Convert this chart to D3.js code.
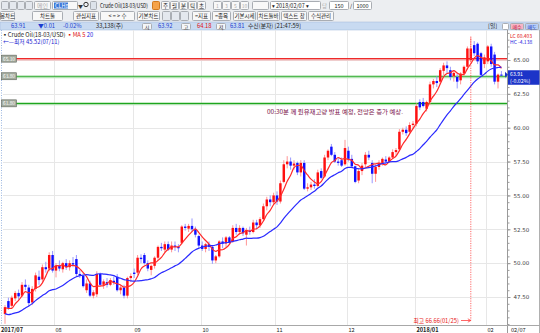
<!DOCTYPE html>
<html>
<head>
<meta charset="utf-8">
<script src="https://cdn.jsdelivr.net/npm/d3@7"></script>
<style>
  body { margin: 0; background: #fff; }
  svg { display: block; font-family: "Noto Sans CJK KR", "DejaVu Sans", sans-serif; }
</style>
</head>
<body>
<svg id="chart" width="540" height="333"></svg>
<script>
// daily bars: date, open, high, low, close  (Crude Oil 18-03)
const candles = [
  ["2017-07-11",46.25,46.90,45.52,46.75],["2017-07-12",47.20,47.45,46.55,46.70],["2017-07-13",46.85,47.60,46.70,47.45],
  ["2017-07-14",47.40,47.95,47.20,47.80],["2017-07-17",47.80,48.05,47.30,47.55],["2017-07-18",47.60,48.60,47.50,48.40],
  ["2017-07-19",48.40,48.80,48.00,48.25],["2017-07-20",48.20,48.40,46.80,47.05],["2017-07-21",47.10,48.30,46.90,48.10],
  ["2017-07-24",48.10,49.30,47.90,49.10],["2017-07-25",49.00,49.45,48.40,48.75],["2017-07-26",48.80,49.90,48.60,49.70],
  ["2017-07-27",49.70,50.10,49.30,49.55],["2017-07-28",49.60,50.80,49.40,50.60],["2017-07-31",50.60,50.90,49.30,49.45],
  ["2017-08-01",49.45,50.00,48.95,49.80],["2017-08-02",49.80,50.20,49.40,49.60],["2017-08-03",49.55,50.10,49.30,50.00],
  ["2017-08-04",50.00,50.30,49.50,49.70],["2017-08-07",49.70,50.20,49.45,50.00],["2017-08-08",50.00,50.45,49.70,49.90],
  ["2017-08-09",50.30,50.60,49.00,49.20],["2017-08-10",49.20,49.50,48.90,49.10],["2017-08-11",49.05,49.25,48.20,48.30],
  ["2017-08-14",48.00,48.80,47.80,48.50],["2017-08-15",48.50,48.70,47.50,47.60],["2017-08-16",47.60,48.00,47.40,47.85],
  ["2017-08-17",47.70,49.40,47.50,49.20],["2017-08-18",49.20,49.30,48.30,48.40],["2017-08-21",48.40,48.80,48.10,48.65],
  ["2017-08-22",48.60,48.90,48.20,48.40],["2017-08-23",48.40,48.90,48.30,48.75],["2017-08-24",48.70,49.00,48.40,48.60],
  ["2017-08-25",49.00,49.20,47.90,48.00],["2017-08-28",48.00,48.40,47.70,48.20],["2017-08-29",48.20,48.40,47.40,47.60],
  ["2017-08-30",47.60,49.00,47.40,48.90],["2017-08-31",48.90,49.25,48.60,49.05],["2017-09-01",49.30,49.60,48.90,49.20],
  ["2017-09-05",49.30,50.60,49.10,50.40],["2017-09-06",50.40,50.65,50.00,50.30],["2017-09-07",50.60,50.75,49.90,50.00],
  ["2017-09-08",50.00,50.20,49.40,49.60],["2017-09-11",49.50,49.90,49.10,49.80],["2017-09-12",49.80,50.50,49.60,50.40],
  ["2017-09-13",50.40,51.30,50.20,51.20],["2017-09-14",51.20,51.50,50.90,51.10],["2017-09-15",51.00,51.60,50.80,51.40],
  ["2017-09-18",51.40,51.60,50.90,51.00],["2017-09-19",51.00,51.60,50.80,51.30],["2017-09-20",51.30,51.60,50.90,51.20],
  ["2017-09-21",51.20,51.40,50.80,51.10],["2017-09-22",51.50,52.80,51.40,52.70],["2017-09-25",52.70,52.90,52.40,52.60],
  ["2017-09-26",52.55,52.90,52.30,52.75],["2017-09-27",52.75,53.30,52.30,52.50],["2017-09-28",52.50,52.70,51.90,52.10],
  ["2017-09-29",52.00,52.10,51.10,51.30],["2017-10-02",51.30,51.60,50.90,51.05],["2017-10-03",51.05,51.50,50.80,51.40],
  ["2017-10-04",51.40,51.60,50.90,51.20],["2017-10-05",51.20,51.30,49.95,50.20],["2017-10-06",50.20,50.60,50.00,50.50],
  ["2017-10-09",50.50,51.70,50.40,51.60],["2017-10-10",51.60,51.90,51.10,51.45],["2017-10-11",51.45,52.00,51.20,51.90],
  ["2017-10-12",51.90,52.00,51.40,51.50],["2017-10-13",51.60,52.80,51.50,52.60],["2017-10-16",52.60,52.90,52.10,52.30],
  ["2017-10-17",52.30,52.80,52.10,52.60],["2017-10-18",52.60,52.70,52.00,52.20],["2017-10-19",52.10,52.60,51.30,52.40],
  ["2017-10-20",52.40,52.70,52.10,52.30],["2017-10-23",52.30,53.20,52.20,53.00],["2017-10-24",53.00,53.20,52.50,52.80],
  ["2017-10-25",52.80,53.40,52.60,53.25],["2017-10-26",53.25,54.40,53.10,54.20],["2017-10-27",54.20,54.90,53.90,54.70],
  ["2017-10-30",54.70,55.00,54.20,54.50],["2017-10-31",54.50,55.20,54.30,55.00],["2017-11-01",55.00,55.30,54.30,54.55],
  ["2017-11-02",54.55,56.10,54.40,55.90],["2017-11-03",56.00,57.60,55.90,57.30],["2017-11-06",57.30,57.90,57.00,57.50],
  ["2017-11-07",57.50,57.80,56.90,57.20],["2017-11-08",57.20,57.60,56.90,57.35],["2017-11-09",57.40,57.50,56.50,56.70],
  ["2017-11-10",56.70,57.60,56.40,57.40],["2017-11-13",57.40,57.60,55.40,55.50],["2017-11-14",55.50,55.90,55.30,55.60],
  ["2017-11-15",55.60,56.00,55.40,55.80],["2017-11-16",55.80,56.20,55.50,55.70],["2017-11-17",55.70,56.90,55.60,56.70],
  ["2017-11-20",56.80,57.00,56.20,56.30],["2017-11-21",56.40,58.00,56.30,57.80],["2017-11-22",57.80,58.40,57.60,58.30],
  ["2017-11-24",58.60,58.80,57.90,58.00],["2017-11-27",58.00,58.20,57.40,57.50],["2017-11-28",57.50,57.80,57.20,57.40],
  ["2017-11-29",57.60,57.80,57.10,57.20],["2017-11-30",57.30,59.10,57.20,58.50],["2017-12-01",58.30,58.60,57.50,57.70],
  ["2017-12-04",57.70,58.00,57.00,57.15],["2017-12-05",57.15,57.20,55.90,56.00],["2017-12-06",56.10,57.00,55.90,56.80],
  ["2017-12-07",56.80,57.40,56.50,57.20],["2017-12-08",57.30,58.20,57.10,58.00],["2017-12-11",58.00,58.30,57.60,57.80],
  ["2017-12-12",57.40,57.60,55.90,56.60],["2017-12-13",56.60,57.30,56.00,57.10],["2017-12-14",57.10,57.60,56.90,57.40],
  ["2017-12-15",57.40,57.80,57.20,57.70],["2017-12-18",57.65,57.90,57.30,57.50],["2017-12-19",57.50,57.90,57.40,57.80],
  ["2017-12-20",57.80,58.40,57.70,58.20],["2017-12-21",58.20,58.50,57.90,58.35],["2017-12-22",58.40,59.90,58.30,59.70],
  ["2017-12-26",59.70,60.00,59.50,59.85],["2017-12-27",59.85,60.10,59.40,59.60],["2017-12-28",59.70,60.40,59.60,60.20],
  ["2017-12-29",60.20,60.50,59.90,60.30],["2018-01-02",60.30,61.80,60.10,61.60],["2018-01-03",61.90,62.10,61.30,61.50],
  ["2018-01-04",61.90,62.20,61.50,61.60],["2018-01-05",61.40,62.00,61.20,61.90],["2018-01-08",61.90,63.40,61.70,63.20],
  ["2018-01-09",63.20,63.60,62.90,63.45],["2018-01-10",63.45,63.80,63.00,63.30],["2018-01-11",63.40,64.40,63.20,64.25],
  ["2018-01-12",64.20,64.80,63.90,64.60],["2018-01-16",64.60,64.90,64.00,64.40],["2018-01-17",64.25,64.50,63.50,63.75],
  ["2018-01-18",63.80,64.20,63.40,64.05],["2018-01-19",63.75,64.00,62.90,63.40],["2018-01-22",63.50,64.10,63.20,64.00],
  ["2018-01-23",64.00,64.60,63.80,64.50],["2018-01-24",64.50,66.00,64.30,65.85],["2018-01-25",65.00,66.66,64.80,65.85],
  ["2018-01-26",66.10,66.40,65.30,65.50],["2018-01-29",66.20,66.30,64.70,64.90],["2018-01-30",65.50,65.60,63.80,63.90],
  ["2018-01-31",64.70,65.40,64.40,65.20],["2018-02-01",64.90,66.10,64.70,66.00],["2018-02-02",66.00,66.20,64.50,64.70],
  ["2018-02-05",65.40,65.60,63.20,63.40],["2018-02-06",63.40,64.00,62.90,63.92],["2018-02-07",63.92,64.18,63.81,63.91]
];
// closes before the first visible bar (feed the moving averages)
const warmup = [48.2,46.5,46.2,46.4,45.7,44.7,44.3,44.5,44.7,45.0,46.0,46.4,46.6,47.8,48.8,47.1,47.4,46.1,46.3];
const maPeriods = [5, 20];
const priceTicks = [47.5, 50, 52.5, 55, 57.5, 60, 62.5, 65];
const monthStarts = ["2017-07-11","2017-08-01","2017-09-01","2017-10-02","2017-11-01","2017-12-01","2018-01-02","2018-02-01"];
const monthLabels = ["2017/07","08","09","10","11","12","2018/01","02"];
const levelValues = [65.10, 63.80, 61.80];
const levelKinds = ["red", "green", "green"];
const volumeText = "33,138(주)";
const note = "00:30분 께 원유재고량 발표 예정, 전망은 증가 예상.";

const svg = d3.select("#chart");
const W = 540, H = 333;
const plotL = 3, plotR = 507, plotT = 30, plotB = 325;

svg.append("rect").attr("width", W).attr("height", H).attr("fill", "#fff");

// ---------- toolbar ----------
svg.append("rect").attr("x", 0).attr("y", 0).attr("width", W).attr("height", 22).attr("fill", "#eceef1");
const btn = (x, y, w, h, label, opt = {}) => {
  svg.append("rect").attr("x", x + .5).attr("y", y + .5).attr("width", w).attr("height", h)
    .attr("fill", opt.fill || "#f8f8f8").attr("stroke", opt.stroke || "#a9adb3").attr("rx", 1);
  if (label) svg.append("text").attr("x", x + w / 2 + .5).attr("y", y + h / 2 + 2.6)
    .attr("text-anchor", "middle").attr("font-size", opt.fs || 6).attr("fill", opt.color || "#222").text(label);
};
[1, 9, 17, 25].forEach(x => btn(x, 1, 7, 8, "", { fill: "#e4e8ee" }));
btn(34, 1, 16, 8, "메인", { color: "#aaa" });
btn(52, 1, 25, 8, "");
svg.append("rect").attr("x", 54).attr("y", 2.5).attr("width", 14).attr("height", 6).attr("fill", "#3877d8");
svg.append("text").attr("x", 55).attr("y", 7.6).attr("font-size", 5.5).attr("fill", "#fff").text("CLH8");
svg.append("text").attr("x", 78).attr("y", 7.5).attr("font-size", 5).attr("fill", "#333").text("▼");
svg.append("circle").attr("cx", 86).attr("cy", 4.5).attr("r", 2.2).attr("fill", "none").attr("stroke", "#333");
btn(90, 1, 6, 8, "", { fill: "#dde3ea" });
svg.append("text").attr("x", 100).attr("y", 7.6).attr("font-size", 6).attr("fill", "#111")
  .attr("textLength", 48).attr("lengthAdjust", "spacingAndGlyphs").text("Crude Oil(18-03/USD)");
btn(152, 1, 7, 8, "", { fill: "#f5a34a", stroke: "#d07a20" });
["주", "월", "분", "틱", "초"].forEach((t, i) => btn(161 + i * 9, 1, 8, 8, t, { fs: 5.5 }));
["1", "3", "5", "10"].forEach((t, i) => btn(213 + i * 9, 1, 8, 8, t, { color: "#aaa", fs: 5 }));
btn(252, 1, 16, 8, "");
btn(270, 1, 50, 8, "", { fill: "#fff" });
svg.append("text").attr("x", 272).attr("y", 7.5).attr("font-size", 5.5).attr("fill", "#222").text("▾ 2018/02/07 ▾");
svg.append("text").attr("x", 322).attr("y", 7.5).attr("font-size", 5.5).attr("fill", "#aaa").text("당");
btn(329, 1, 19, 8, "150", { fill: "#fff", fs: 5.5 });
svg.append("text").attr("x", 350).attr("y", 7.5).attr("font-size", 5.5).attr("fill", "#222").text("/");
btn(353, 1, 18, 8, "1000", { fill: "#fff", fs: 5.5 });

const row2 = [["봉차트", 0, 14], ["차트툴", 32, 30], ["관심지표", 73, 25], ["< = > 수", 100, 34], ["기본차트", 137, 22],
  ["=지표", 192, 18], ["=종목", 212, 18], ["기본시세", 233, 22], ["차트툴바", 257, 22], ["텍스트 창", 281, 25], ["수식관리", 308, 25]];
row2.forEach(([t, x, w]) => btn(x, 11, w, 9, t, { fs: 5.5 }));
[162, 171, 180].forEach(x => btn(x, 11, 8, 9, "", { fill: "#e4e8ee" }));

// ---------- info row ----------
svg.append("rect").attr("x", 0).attr("y", 22).attr("width", W).attr("height", 8).attr("fill", "#c8daf1").attr("stroke", "#9fb8da").attr("stroke-width", .5);
const last = candles[candles.length - 1], prev = candles[candles.length - 2];
const chg = last[4] - prev[4];
const pct = chg / prev[4] * 100;
const info = [
  [last[4].toFixed(2), 11, "#1a3cd0"], ["▼" + Math.abs(chg).toFixed(2), 38, "#1a3cd0"], [pct.toFixed(2) + "%", 63, "#1a3cd0"],
  [volumeText, 96, "#222"], [last[1].toFixed(2), 158, "#1a3cd0"], [last[2].toFixed(2), 197, "#e01010"],
  [last[3].toFixed(2), 230, "#1a3cd0"], ["수신(분자) [21:47:59]", 248, "#222"], ["[일]", 488, "#222"]];
info.forEach(([t, x, c]) => svg.append("text").attr("x", x).attr("y", 28.4).attr("font-size", 5.8).attr("fill", c).text(t));
[["시", 142], ["고", 181], ["저", 216]].forEach(([t, x]) => btn(x, 23, 9, 6, t, { fs: 5, fill: "#f4f6f9" }));
btn(502, 23, 6, 6, "", { fill: "#fff" });
btn(510, 23, 13, 6, "매수", { fs: 5, fill: "#f6b6c6", color: "#c01030" });
btn(525, 23, 13, 6, "매도", { fs: 5, fill: "#b8cef6", color: "#1030c0" });

// ---------- scales ----------
const dates = candles.map(d => d[0]);
const x = d3.scaleBand().domain(dates).range([3.3, 503.1]);
const cx = d => x(d) + x.bandwidth() / 2;
const y = d3.scaleLinear().domain([47.5, 65]).range([297, 60]);

// ---------- grid ----------
const grid = svg.append("g").attr("stroke", "#e7e7e7").attr("stroke-width", 1);
grid.selectAll("line.h").data(priceTicks).join("line")
  .attr("x1", plotL).attr("x2", plotR).attr("y1", d => Math.round(y(d)) + .5).attr("y2", d => Math.round(y(d)) + .5);
grid.selectAll("line.v").data(monthStarts.slice(1)).join("line")
  .attr("x1", d => Math.round(x(d)) + .5).attr("x2", d => Math.round(x(d)) + .5).attr("y1", plotT).attr("y2", plotB);

// scroll marker on the left edge
svg.append("line").attr("x1", 1.5).attr("x2", 1.5).attr("y1", plotT).attr("y2", plotB)
  .attr("stroke", "#9ab6e0").attr("stroke-dasharray", "1,1.5");

// ---------- level lines ----------
const lvlColor = { red: ["#f7b4b4", "#ee2a2a"], green: ["#b6e2b6", "#1ea61e"] };
levelValues.forEach((v, i) => {
  const [soft, hard] = lvlColor[levelKinds[i]];
  const yy = y(v);
  svg.append("line").attr("x1", 16).attr("x2", plotR).attr("y1", yy + 1.2).attr("y2", yy + 1.2).attr("stroke", soft).attr("stroke-width", 1.4);
  svg.append("line").attr("x1", 16).attr("x2", plotR).attr("y1", yy).attr("y2", yy).attr("stroke", hard).attr("stroke-width", 1.2);
  svg.append("rect").attr("x", 1.5).attr("y", yy - 3.5).attr("width", 15).attr("height", 7)
    .attr("fill", "#a3ab9e").attr("stroke", "#5f665c").attr("stroke-width", .6);
  svg.append("text").attr("x", 9).attr("y", yy + 2).attr("text-anchor", "middle").attr("font-size", 4.8)
    .attr("fill", "#fff").text(v.toFixed(2));
});

// ---------- candles ----------
const bw = x.bandwidth() * 0.72;
const up = d => d[4] >= d[1];
const cg = svg.append("g");
cg.selectAll("line").data(candles).join("line")
  .attr("x1", d => cx(d[0])).attr("x2", d => cx(d[0]))
  .attr("y1", d => y(d[2])).attr("y2", d => y(d[3]))
  .attr("stroke", d => up(d) ? "#ff8a8a" : "#8c8cff").attr("stroke-width", 0.9);
cg.selectAll("rect").data(candles).join("rect")
  .attr("x", d => cx(d[0]) - bw / 2).attr("width", bw)
  .attr("y", d => y(Math.max(d[1], d[4])))
  .attr("height", d => Math.max(1, Math.abs(y(d[1]) - y(d[4]))))
  .attr("fill", d => up(d) ? "#ff1010" : "#1010ff");

// ---------- moving averages ----------
const allCloses = warmup.concat(candles.map(d => d[4]));
const ma = p => candles.map((d, i) => {
  const end = i + warmup.length + 1;
  return [d[0], d3.mean(allCloses.slice(end - p, end))];
});
const maColors = ["#ff2a2a", "#2a2aff"];
maPeriods.forEach((p, k) => {
  svg.append("path").datum(ma(p))
    .attr("fill", "none").attr("stroke", maColors[k]).attr("stroke-width", 1.2)
    .attr("d", d3.line().x(d => cx(d[0])).y(d => y(d[1])).curve(d3.curveMonotoneX));
});

// ---------- high / low markers ----------
const hiBar = candles.reduce((a, b) => b[2] > a[2] ? b : a);
const loBar = candles.reduce((a, b) => b[3] < a[3] ? b : a);
const md = s => s.slice(5, 7) + "/" + s.slice(8, 10);
const hx = cx(hiBar[0]);
svg.append("line").attr("x1", hx).attr("x2", hx).attr("y1", y(hiBar[2]) - 1).attr("y2", 320.5)
  .attr("stroke", "#ff4040").attr("stroke-width", 0.8).attr("stroke-dasharray", "1.2,1.2");
svg.append("line").attr("x1", 461).attr("x2", hx).attr("y1", 320.5).attr("y2", 320.5).attr("stroke", "#ff4040").attr("stroke-width", .8);
svg.append("path").attr("d", `M${hx - 3},318.8L${hx},320.5L${hx - 3},322.2`).attr("fill", "none").attr("stroke", "#ff4040").attr("stroke-width", .8);
svg.append("text").attr("x", 459).attr("y", 322.5).attr("text-anchor", "end").attr("font-size", 5.8).attr("fill", "#e81818")
  .text(`최고 ${hiBar[2].toFixed(2)}(${md(hiBar[0])})`);

// ---------- legend ----------
const lg = svg.append("text").attr("x", 2).attr("y", 36.5).attr("font-size", 5.8);
lg.append("tspan").attr("fill", "#222").text("▪Crude Oil(18-03/USD) ");
lg.append("tspan").attr("fill", "#e01010").text("▪MA " + maPeriods[0] + " ");
lg.append("tspan").attr("fill", "#1a1ae0").text(maPeriods[1]);
svg.append("text").attr("x", 3).attr("y", 44).attr("font-size", 5.8).attr("fill", "#1a1ad0")
  .text(`←—최저 ${loBar[3].toFixed(2)}(${md(loBar[0])})`);

// annotation
svg.append("text").attr("x", 267).attr("y", 114).attr("font-size", 5.8).attr("fill", "#7a1048")
  .attr("textLength", 136).attr("lengthAdjust", "spacingAndGlyphs").text(note);

// ---------- right axis ----------
svg.append("line").attr("x1", plotR + .5).attr("x2", plotR + .5).attr("y1", plotT).attr("y2", H).attr("stroke", "#9a9a9a");
svg.append("line").attr("x1", W - .5).attr("x2", W - .5).attr("y1", plotT).attr("y2", H).attr("stroke", "#b0b0b0");
const minor = d3.axisRight(y).tickValues(d3.range(45.5, 67.01, 0.5)).tickSize(2).tickFormat("");
svg.append("g").attr("transform", `translate(${plotR + .5},0)`).call(minor)
  .call(g => g.select(".domain").remove()).selectAll("line").attr("stroke", "#9a9a9a");
const major = d3.axisRight(y).tickValues(priceTicks).tickSize(3).tickPadding(3).tickFormat(d3.format(".2f"));
svg.append("g").attr("transform", `translate(${plotR + .5},0)`).call(major)
  .call(g => g.select(".domain").remove())
  .call(g => g.selectAll("line").attr("stroke", "#9a9a9a"))
  .call(g => g.selectAll("text").attr("font-size", 5.5).attr("fill", "#444").attr("font-family", "'DejaVu Sans', sans-serif"));

svg.append("text").attr("x", 510).attr("y", 37.5).attr("font-size", 5).attr("fill", "#e01010").text("LC 60.403");
svg.append("text").attr("x", 510).attr("y", 44).attr("font-size", 5).attr("fill", "#1a1ae0").text("HC -4.138");

// current price tag
const py = y(last[4]);
svg.append("rect").attr("x", plotR + 1).attr("y", py - 4.5).attr("width", W - plotR - 1.5).attr("height", 14.5).attr("fill", "#1c34c8");
svg.append("path").attr("d", `M${plotR - 2},${py - 3}L${plotR + 1},${py}L${plotR - 2},${py + 3}Z`).attr("fill", "#1c34c8");
svg.append("text").attr("x", 510).attr("y", py + 1.6).attr("font-size", 5.2).attr("fill", "#fff").text(last[4].toFixed(2));
svg.append("text").attr("x", 510).attr("y", py + 8.4).attr("font-size", 5.2).attr("fill", "#fff").text(`(${pct.toFixed(2)}%)`);

// ---------- bottom axis ----------
svg.append("line").attr("x1", 0).attr("x2", W).attr("y1", plotB + .5).attr("y2", plotB + .5).attr("stroke", "#a8a8a8");
svg.selectAll("text.mlab").data(monthStarts).join("text")
  .attr("x", (d, i) => i === 0 ? 1 : Math.round(x(d)) + 1.5).attr("y", 331.5)
  .attr("font-size", 5.6).attr("fill", "#222")
  .attr("font-weight", (d, i) => monthLabels[i].length > 2 ? "bold" : "normal")
  .text((d, i) => monthLabels[i]);
svg.append("text").attr("x", 511).attr("y", 331.5).attr("font-size", 5.6).attr("fill", "#222").text(md(last[0]));
</script>
</body>
</html>
